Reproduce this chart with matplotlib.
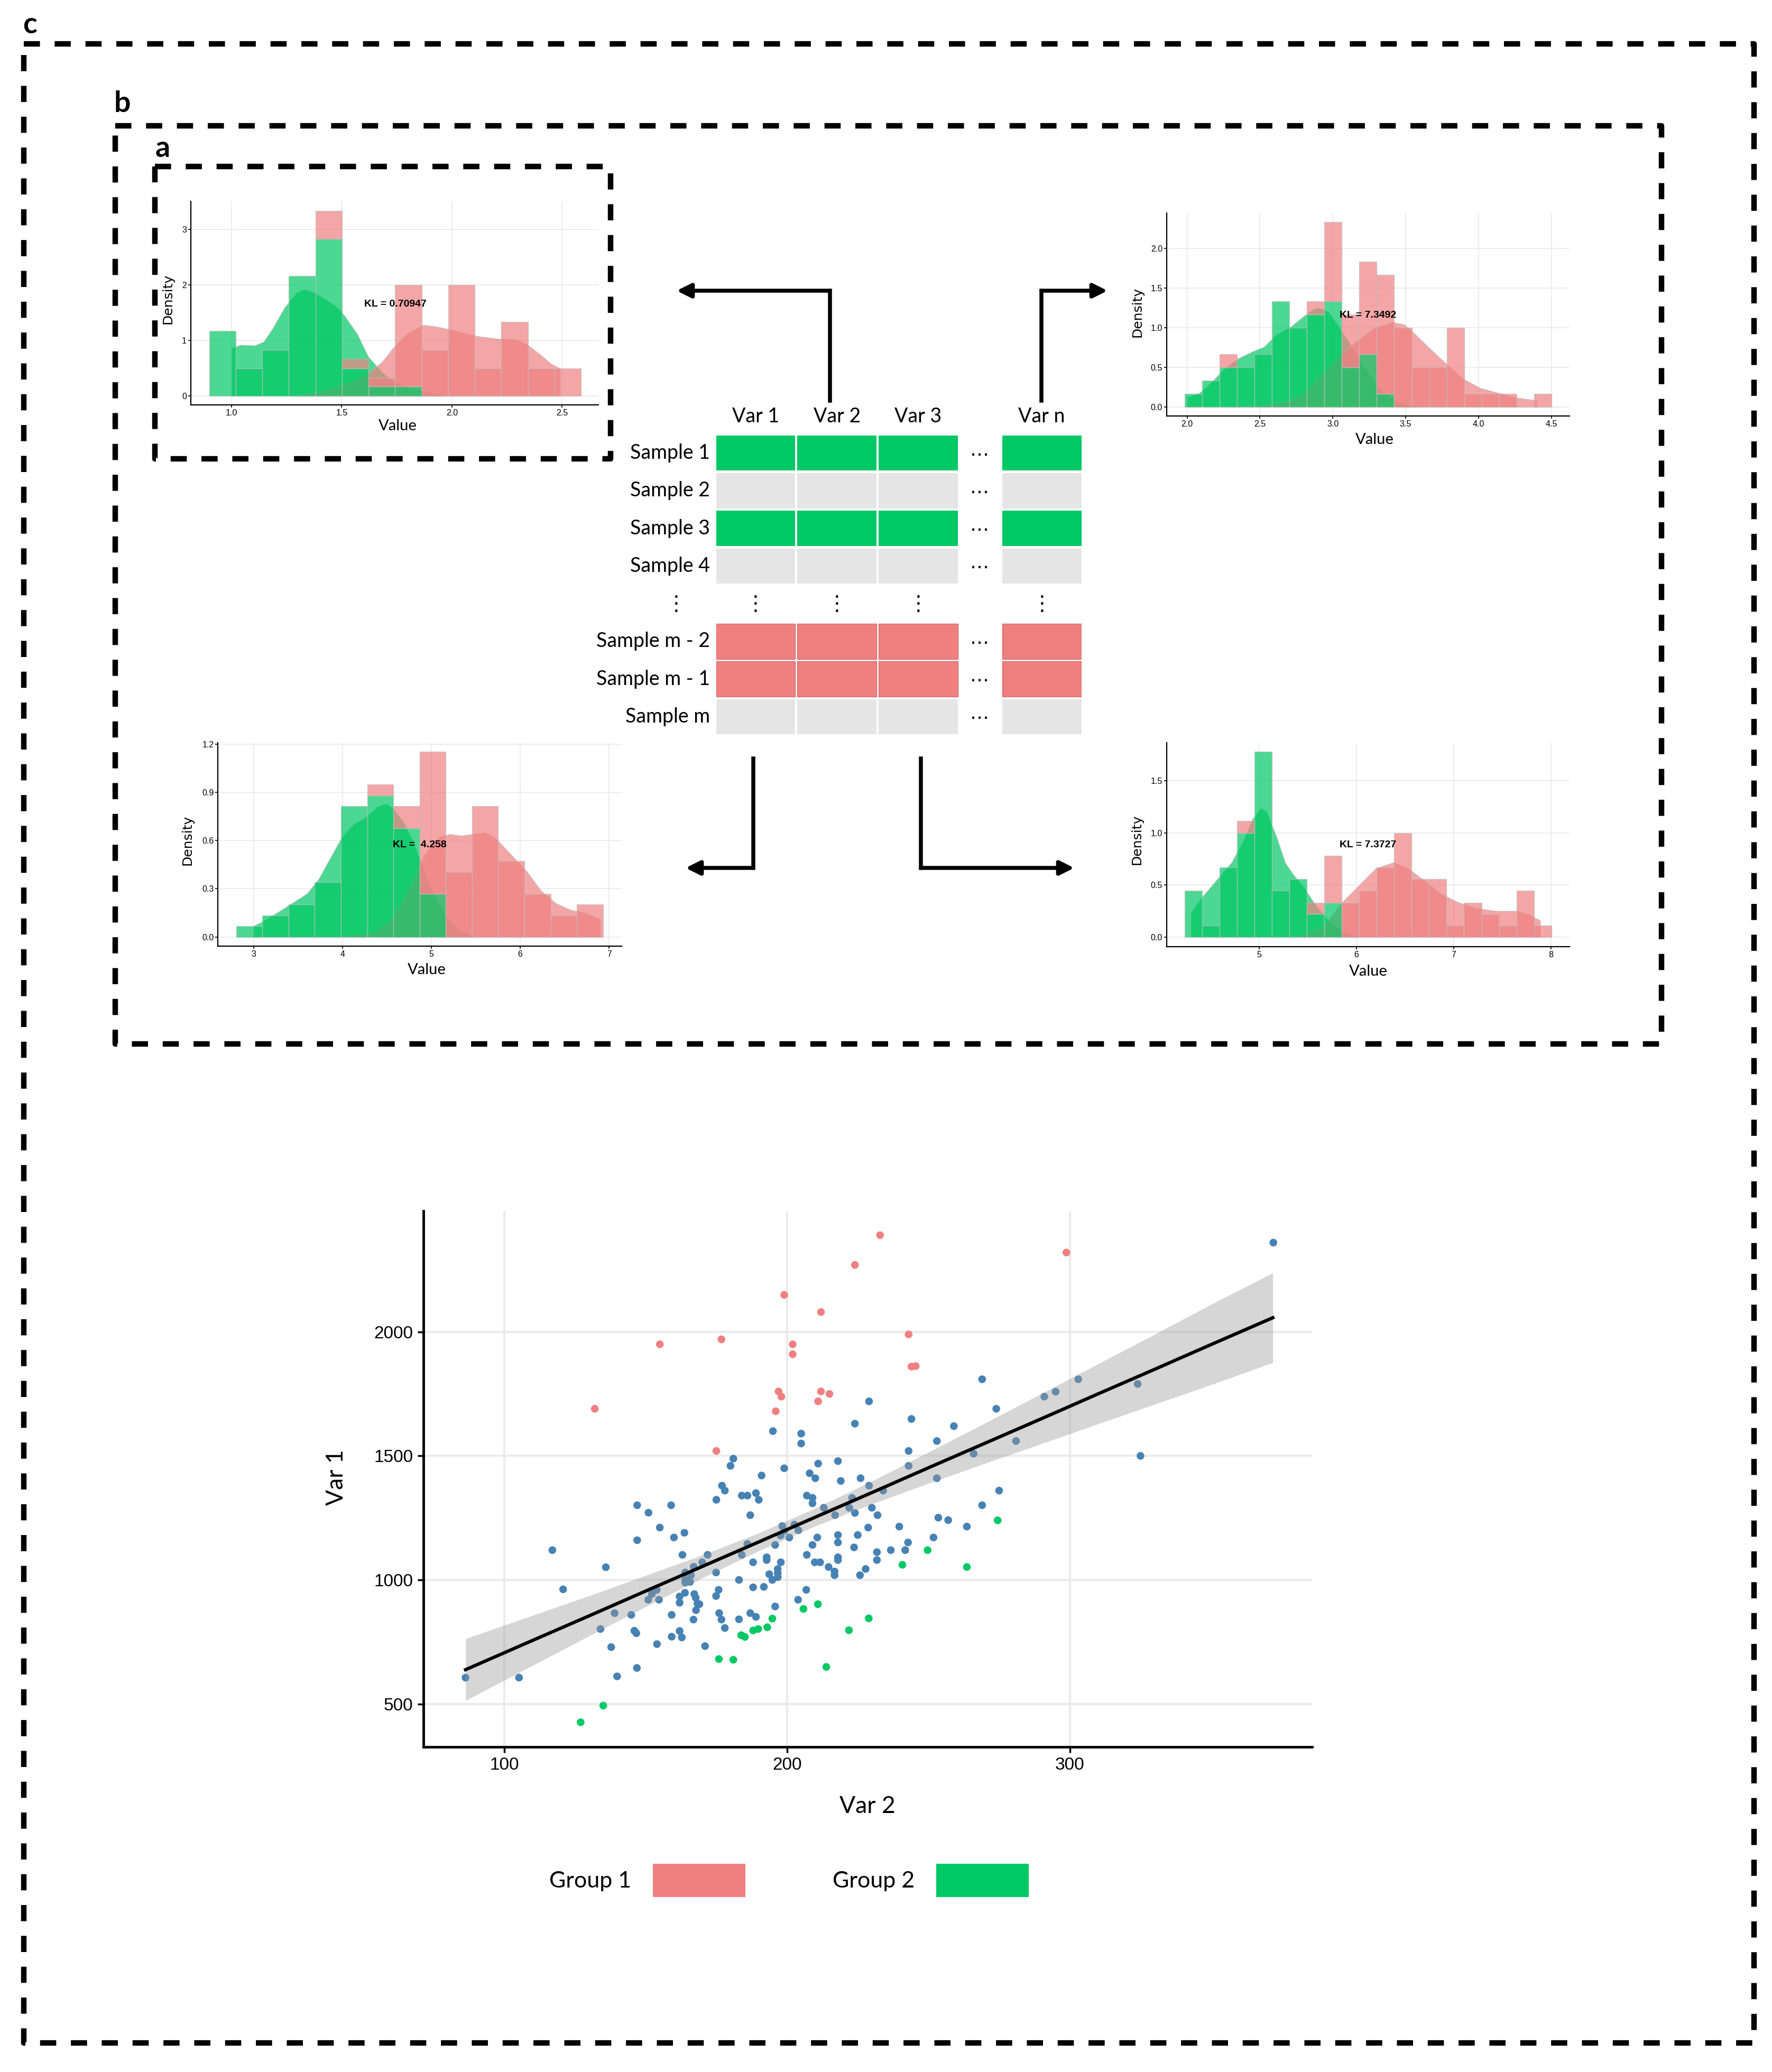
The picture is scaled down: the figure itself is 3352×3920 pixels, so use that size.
import numpy as np
import matplotlib
matplotlib.use("Agg")
import matplotlib.pyplot as plt
from matplotlib.patches import Patch

plt.rcParams['font.family'] = ['Liberation Sans', 'DejaVu Sans']
plt.rcParams['lines.scale_dashes'] = False

W, H, DPI = 3352, 3920, 100
PINK = '#F08080'
GREEN = '#00C864'
BLUE = '#4682B4'
CELL_GREY = '#E5E5E5'
EDGE = '#BEBEBE'
GRID = '#EBEBEB'
CAL = ['Lato', 'DejaVu Sans']

# ---------------- histogram panels (bin start, bin width, green heights, stacked totals) ----
tl_start, tl_width = 0.898, 0.1206
tl_green = [1.17, 0.5, 0.83, 2.16, 2.83, 0.5, 0.17, 0.17, 0, 0, 0, 0, 0, 0]
tl_total = [1.17, 0.5, 0.83, 2.16, 3.33, 0.67, 0.33, 2.0, 0.83, 2.0, 0.5, 1.33, 0.5, 0.5]
tl_gdx = [1.0, 1.04, 1.106, 1.146, 1.187, 1.24, 1.295, 1.329, 1.376, 1.43, 1.47, 1.51,
          1.57, 1.62, 1.68, 1.73, 1.81, 1.91, 1.96]
tl_gdy = [0.86, 0.92, 0.91, 0.98, 1.22, 1.59, 1.86, 1.92, 1.86, 1.73, 1.63, 1.46,
          1.12, 0.71, 0.44, 0.27, 0.14, 0.05, 0.01]
tl_pdx = [1.3, 1.4, 1.5, 1.57, 1.62, 1.68, 1.73, 1.79, 1.87, 1.93, 2.0, 2.11, 2.21,
          2.29, 2.34, 2.4, 2.45, 2.49]
tl_pdy = [0.01, 0.08, 0.2, 0.3, 0.42, 0.6, 0.85, 1.1, 1.28, 1.25, 1.19, 1.08, 1.03,
          1.02, 0.93, 0.75, 0.58, 0.5]

tr_start, tr_width = 1.982, 0.12
tr_green = [0.167, 0.333, 0.5, 0.5, 0.667, 1.333, 1.0, 1.167, 1.333, 0.5, 0.667, 0.167,
            0, 0, 0, 0, 0, 0, 0, 0, 0]
tr_total = [0.167, 0.333, 0.667, 0.5, 0.667, 1.333, 1.0, 1.333, 2.333, 1.167, 1.833, 1.667,
            1.0, 0.5, 0.5, 1.0, 0.167, 0.167, 0.167, 0, 0.167]
tr_gdx = [2.0, 2.087, 2.167, 2.248, 2.349, 2.45, 2.53, 2.61, 2.71, 2.79, 2.87, 2.91, 2.97,
          3.03, 3.11, 3.19, 3.28, 3.34, 3.42, 3.5, 3.58]
tr_gdy = [0.12, 0.18, 0.31, 0.47, 0.61, 0.70, 0.76, 0.91, 1.01, 1.13, 1.24, 1.25, 1.2,
          1.04, 0.82, 0.58, 0.33, 0.2, 0.09, 0.03, 0.01]
tr_pdx = [2.3, 2.51, 2.69, 2.81, 2.93, 3.05, 3.17, 3.29, 3.41, 3.49, 3.57, 3.67, 3.77,
          3.89, 4.01, 4.15, 4.25, 4.37, 4.4]
tr_pdy = [0.0, 0.02, 0.07, 0.18, 0.42, 0.64, 0.84, 1.0, 1.07, 1.04, 0.91, 0.73, 0.56,
          0.36, 0.24, 0.17, 0.12, 0.09, 0.08]

bl_start, bl_width = 2.802, 0.295
bl_green = [0.069, 0.135, 0.204, 0.34, 0.814, 0.879, 0.677, 0.27, 0, 0, 0, 0, 0, 0]
bl_total = [0.069, 0.135, 0.204, 0.34, 0.814, 0.949, 0.814, 1.154, 0.403, 0.814, 0.474,
            0.27, 0.135, 0.204]
bl_gdx = [3.0, 3.1, 3.26, 3.43, 3.6, 3.73, 3.86, 3.99, 4.12, 4.25, 4.39, 4.49, 4.57, 4.69,
          4.79, 4.88, 4.98, 5.08, 5.21, 5.34, 5.44]
bl_gdy = [0.069, 0.096, 0.15, 0.21, 0.27, 0.36, 0.49, 0.62, 0.70, 0.74, 0.81, 0.83, 0.80,
          0.71, 0.60, 0.47, 0.32, 0.21, 0.096, 0.036, 0.01]
bl_pdx = [3.99, 4.36, 4.55, 4.75, 4.92, 5.08, 5.21, 5.34, 5.47, 5.6, 5.73, 5.9, 6.07, 6.23,
          6.4, 6.56, 6.73, 6.9]
bl_pdy = [0.003, 0.03, 0.11, 0.30, 0.51, 0.62, 0.64, 0.63, 0.64, 0.65, 0.61, 0.51, 0.41,
          0.29, 0.21, 0.17, 0.15, 0.11]

br_start, br_width = 4.233, 0.1796
br_green = [0.445, 0.112, 0.667, 1.0, 1.781, 0.444, 0.555, 0.222, 0.33, 0, 0, 0, 0, 0,
            0, 0, 0, 0, 0, 0, 0]
br_total = [0.445, 0.112, 0.667, 1.114, 1.781, 0.444, 0.555, 0.33, 0.779, 0.33, 0.444,
            0.667, 1.0, 0.555, 0.555, 0.112, 0.33, 0.217, 0.112, 0.444, 0.112]
br_gdx = [4.3, 4.42, 4.57, 4.72, 4.84, 4.93, 5.02, 5.08, 5.18, 5.27, 5.36, 5.45, 5.57,
          5.72, 5.87, 6.02]
br_gdy = [0.234, 0.39, 0.555, 0.72, 0.93, 1.13, 1.24, 1.2, 0.96, 0.71, 0.59, 0.49, 0.32,
          0.15, 0.05, 0.005]
br_pdx = [5.3, 5.42, 5.66, 5.84, 6.02, 6.2, 6.38, 6.53, 6.68, 6.86, 7.04, 7.23, 7.44,
          7.65, 7.77, 7.89]
br_pdy = [0.0, 0.014, 0.098, 0.32, 0.49, 0.66, 0.716, 0.66, 0.555, 0.42, 0.335, 0.276,
          0.25, 0.25, 0.217, 0.157]

# ---------------- table ----------------
var_names = ['Var 1', 'Var 2', 'Var 3', 'Var n']
sample_names = ['Sample 1', 'Sample 2', 'Sample 3', 'Sample 4', '',
                'Sample m - 2', 'Sample m - 1', 'Sample m']
row_group = ['g2', 'none', 'g2', 'none', 'dots', 'g1', 'g1', 'none']

# ---------------- scatter (Var 2 vs Var 1) ----------------
g1_x = [232.9, 224, 199, 212, 176.8, 155, 202, 202, 197, 198, 212, 215, 211, 196, 132,
        175, 298.8, 243, 244, 245.5]
g1_y = [2390, 2270, 2149, 2080, 1970, 1950, 1950, 1910, 1760, 1739, 1760, 1750, 1720,
        1680, 1690, 1520, 2320, 1990, 1860, 1862]
g2_x = [249.7, 240.8, 263.6, 274.5, 210.9, 205.8, 194.8, 228.9, 193, 188, 189.8, 183.8,
        185.1, 221.9, 175.9, 181, 213.9, 135, 127]
g2_y = [1120, 1061, 1052, 1240, 902, 883, 844, 845, 809, 796, 802, 777, 770, 797, 681,
        678, 649, 493, 426]
other_x = [229, 224, 195, 205, 205, 181, 180, 199, 191, 211, 218, 208, 210, 219, 226, 177,
           178, 184, 186, 189, 207, 209, 175, 190, 223, 229, 372, 269, 303, 324, 295, 291,
           274, 244, 259, 253, 281, 243, 266, 325, 243, 234, 253, 275, 209, 213, 222, 224,
           217, 230, 232, 269, 253.5, 257, 263.6, 228.7, 239.7, 147, 159, 151, 155, 187,
           198.3, 199, 202.6, 204, 197.7, 200.8, 195.8, 186, 163.7, 160, 147, 117, 210.7,
           209, 218, 218, 225, 223.7, 207, 209.8, 211.7, 214.7, 216.8, 216.8, 218, 218,
           225.8, 227.8, 231.8, 231.8, 236.7, 241.8, 242.8, 251.8, 163, 171.9, 184, 170,
           188, 192.8, 192.8, 197.8, 167, 135.9, 164, 174.9, 196.7, 196.7, 193.7, 194.8,
           196.7, 183, 166, 165.7, 164, 164, 188, 191.8, 206.8, 175.8, 174.9, 163.9, 153.9,
           152.2, 150.9, 154.7, 162, 162, 167.2, 167.7, 168.3, 169, 167.8, 203.9, 195.8,
           120.8, 139, 144.9, 159.2, 166.9, 176, 176.8, 183, 187, 189, 178, 134, 146,
           146.7, 159.2, 162, 162.8, 154, 137.8, 171, 146.9, 139.9, 105.2, 86.3]
other_y = [1720, 1630, 1600, 1590, 1550, 1489, 1460, 1450, 1421, 1469, 1479, 1430, 1410,
           1399, 1410, 1380, 1360, 1340, 1340, 1350, 1340, 1331, 1323, 1323, 1331, 1380,
           2360, 1809, 1809, 1790, 1759, 1739, 1690, 1649, 1620, 1560, 1560, 1520, 1509,
           1500, 1460, 1360, 1410, 1360, 1309, 1291, 1291, 1270, 1261, 1291, 1261, 1301,
           1251, 1241, 1215, 1211, 1215, 1301, 1301, 1271, 1211, 1261, 1217, 1198, 1223,
           1200, 1179, 1171, 1141, 1145, 1190, 1171, 1160, 1120, 1171, 1141, 1181, 1151,
           1181, 1131, 1101, 1071, 1071, 1052, 1034, 1019, 1091, 1080, 1019, 1044, 1112,
           1080, 1120, 1120, 1151, 1171, 1101, 1101, 1101, 1071, 1071, 1091, 1080, 1071,
           1053, 1051, 1030, 1030, 1044, 1027, 1023, 1000, 1011, 1000, 1019, 992, 1000,
           989, 970, 972, 960, 960, 935, 948, 960, 943, 920, 920, 933, 908, 943, 928, 905,
           902, 878, 920, 893, 962, 866, 859, 859, 840, 866, 840, 841, 866, 851, 806, 802,
           795, 785, 771, 794, 768, 741, 729, 733, 645, 611, 606, 606]
fit_x = [86.3, 110, 130, 150, 170, 190, 210, 230, 250, 270, 290, 310, 330, 350, 371.8]
fit_y = [638, 756, 855, 955, 1054, 1153, 1253, 1352, 1452, 1551, 1650, 1750, 1849, 1949, 2057]
fit_lo = [513, 655, 774, 892, 1008, 1117, 1217, 1306, 1389, 1470, 1549, 1629, 1708, 1787, 1876]
fit_hi = [763, 857, 936, 1018, 1100, 1189, 1289, 1398, 1515, 1632, 1751, 1871, 1990, 2111, 2238]

fig = plt.figure(figsize=(W / DPI, H / DPI), dpi=DPI)
fig.patch.set_facecolor('white')


def px_axes(left, top, right, bottom):
    return fig.add_axes([left / W, 1 - bottom / H, (right - left) / W, (bottom - top) / H])


# background layer for the dashed frames, arrows and panel letters
ax_bg = px_axes(0, 0, W, H)
ax_bg.set_xlim(0, W)
ax_bg.set_ylim(H, 0)
ax_bg.axis('off')

boxes = [(45, 83, 3318, 3865), (218, 238, 3143, 1975), (293, 315, 1155, 868)]
for x0, y0, x1, y1 in boxes:
    ax_bg.plot([x0, x1, x1, x0, x0], [y0, y0, y1, y1, y0], color='k', lw=7.5,
               linestyle=(0, (22, 20)), dash_capstyle='butt')

for lab, (lx, ly) in zip(['c', 'b', 'a'], [(56, 47), (231, 196), (308, 281)]):
    ax_bg.text(lx, ly, lab, ha='center', va='center', fontsize=40, fontweight='bold',
               family=CAL)

arrows = [[(1570, 758), (1570, 550), (1280, 550)],
          [(1970, 758), (1970, 550), (2095, 550)],
          [(1425, 1435), (1425, 1642), (1297, 1642)],
          [(1742, 1435), (1742, 1642), (2032, 1642)]]
for pts in arrows:
    ax_bg.plot([p[0] for p in pts[:-1]], [p[1] for p in pts[:-1]], color='k', lw=5.4,
               solid_capstyle='projecting')
    ax_bg.annotate('', xy=pts[-1], xytext=pts[-2],
                   arrowprops=dict(arrowstyle='-|>,head_length=0.8,head_width=0.4',
                                   lw=5.4, color='k', mutation_scale=20,
                                   shrinkA=0, shrinkB=0))


def hist_panel(rect, start, width, green, total, gdx, gdy, pdx, pdy, xlim, ylim,
               xticks, xlabels, yticks, ylabels, kl, kl_xy, value_xy, dens_xy):
    ax = px_axes(*rect)
    green = np.array(green, dtype=float)
    total = np.array(total, dtype=float)
    left = start + width * np.arange(len(green))
    ax.fill_between(gdx, gdy, color=GREEN, alpha=0.7, edgecolor=EDGE, lw=1, zorder=2)
    ax.fill_between(pdx, pdy, color=PINK, alpha=0.7, edgecolor=EDGE, lw=1, zorder=2)
    gm = green > 0
    ax.bar(left[gm], green[gm], width, align='edge', color=GREEN, alpha=0.7,
           edgecolor=EDGE, linewidth=1, zorder=3)
    pm = total > green
    ax.bar(left[pm], (total - green)[pm], width, bottom=green[pm], align='edge',
           color=PINK, alpha=0.7, edgecolor=EDGE, linewidth=1, zorder=3)
    ax.set_xlim(*xlim)
    ax.set_ylim(*ylim)
    ax.set_xticks(xticks)
    ax.set_xticklabels(xlabels)
    ax.set_yticks(yticks)
    ax.set_yticklabels(ylabels)
    ax.grid(True, color=GRID, lw=1.3, zorder=0)
    ax.set_axisbelow(True)
    for s in ['top', 'right']:
        ax.spines[s].set_visible(False)
    for s in ['left', 'bottom']:
        ax.spines[s].set_linewidth(1.6)
    ax.tick_params(length=3.5, width=1.2, pad=2, labelsize=11.5)
    ax.text(kl_xy[0], kl_xy[1], kl, ha='center', va='center', fontsize=14,
            fontweight='bold', zorder=5)
    ax.text(value_xy[0], value_xy[1], 'Value', transform=ax.transAxes, ha='center',
            va='center', fontsize=21, family=CAL)
    ax.text(dens_xy[0], dens_xy[1], 'Density', transform=ax.transAxes, ha='center',
            va='center', rotation=90, fontsize=18, family='DejaVu Sans')
    return ax


hist_panel((360.5, 381.4, 1132, 766.4), tl_start, tl_width, tl_green, tl_total,
           tl_gdx, tl_gdy, tl_pdx, tl_pdy, (0.814, 2.665), (-0.163, 3.5),
           [1.0, 1.5, 2.0, 2.5], ['1.0', '1.5', '2.0', '2.5'],
           [0, 1, 2, 3], ['0', '1', '2', '3'],
           'KL = 0.70947', (1.743, 1.654), (0.508, -0.103), (-0.056, 0.523))
hist_panel((2206.7, 402.7, 2969, 787.3), tr_start, tr_width, tr_green, tr_total,
           tr_gdx, tr_gdy, tr_pdx, tr_pdy, (1.859, 4.625), (-0.116, 2.449),
           [2.0, 2.5, 3.0, 3.5, 4.0, 4.5], ['2.0', '2.5', '3.0', '3.5', '4.0', '4.5'],
           [0, 0.5, 1.0, 1.5, 2.0], ['0.0', '0.5', '1.0', '1.5', '2.0'],
           'KL = 7.3492', (3.241, 1.156), (0.516, -0.115), (-0.072, 0.513))
hist_panel((412.2, 1405, 1175.6, 1790), bl_start, bl_width, bl_green, bl_total,
           bl_gdx, bl_gdy, bl_pdx, bl_pdy, (2.597, 7.139), (-0.057, 1.209),
           [3, 4, 5, 6, 7], ['3', '4', '5', '6', '7'],
           [0, 0.3, 0.6, 0.9, 1.2], ['0.0', '0.3', '0.6', '0.9', '1.2'],
           'KL =  4.258', (4.868, 0.573), (0.518, -0.117), (-0.075, 0.52))
hist_panel((2206.7, 1405, 2969.4, 1791), br_start, br_width, br_green, br_total,
           br_gdx, br_gdy, br_pdx, br_pdy, (4.049, 8.193), (-0.093, 1.867),
           [5, 6, 7, 8], ['5', '6', '7', '8'],
           [0, 0.5, 1.0, 1.5], ['0.0', '0.5', '1.0', '1.5'],
           'KL = 7.3727', (6.12, 0.885), (0.501, -0.122), (-0.074, 0.526))

# ---------------- table ----------------
col_x = [0, 1, 2, 3.52]
cell_w, cell_h = 0.975, 0.93
dots_x = 3.24
ax_t = px_axes(1354.5, 824, 2046.4, 1389)
ax_t.set_xlim(0, 4.5)
ax_t.set_ylim(7.93, 0)
ax_t.axis('off')
fill = {'g1': PINK, 'g2': GREEN, 'none': CELL_GREY}
for r, (name, grp) in enumerate(zip(sample_names, row_group)):
    if grp == 'dots':
        for cx in [-0.49] + [c + cell_w / 2 for c in col_x]:
            ax_t.text(cx, r + 0.48, '\u22ee', ha='center', va='center', fontsize=28,
                      family='DejaVu Sans', clip_on=False)
        continue
    ax_t.bar(col_x, [cell_h] * len(col_x), cell_w, bottom=r, align='edge',
             color=fill[grp], edgecolor='#D46A6A' if grp == 'g1' else 'none',
             linewidth=1)
    ax_t.text(-0.075, r + cell_h / 2, name, ha='right', va='center', fontsize=27,
              family=CAL, clip_on=False)
    ax_t.text(dots_x, r + cell_h / 2 + 0.05, '\u22ef', ha='center', va='center',
              fontsize=26, family='DejaVu Sans')
for c, v in zip(col_x, var_names):
    ax_t.text(c + cell_w / 2, -0.5, v, ha='center', va='center', fontsize=27,
              family=CAL, clip_on=False)

# ---------------- scatter ----------------
ax_s = px_axes(801, 2291, 2482, 3305)
ax_s.scatter(other_x, other_y, s=110, color=BLUE, edgecolors='none', zorder=3)
ax_s.scatter(g1_x, g1_y, s=110, color=PINK, edgecolors='none', zorder=3)
ax_s.scatter(g2_x, g2_y, s=110, color=GREEN, edgecolors='none', zorder=3)
ax_s.fill_between(fit_x, fit_lo, fit_hi, color='#999999', alpha=0.4, lw=0, zorder=4)
ax_s.plot(fit_x, fit_y, color='k', lw=4.5, zorder=5)
ax_s.set_xlim(71.4, 385.7)
ax_s.set_ylim(326.5, 2487.6)
ax_s.set_xticks([100, 200, 300])
ax_s.set_yticks([500, 1000, 1500, 2000])
ax_s.grid(True, color=GRID, lw=3, zorder=0)
ax_s.set_axisbelow(True)
for s in ['top', 'right']:
    ax_s.spines[s].set_visible(False)
for s in ['left', 'bottom']:
    ax_s.spines[s].set_linewidth(3.5)
ax_s.tick_params(length=8, width=2.5, pad=6, labelsize=24)
ax_s.text(0.4997, -0.111, 'Var 2', transform=ax_s.transAxes, ha='center', va='center',
          fontsize=32, family=CAL)
ax_s.text(-0.0976, 0.503, 'Var 1', transform=ax_s.transAxes, ha='center', va='center',
          rotation=90, fontsize=32, family=CAL)

handles = [Patch(facecolor=PINK, edgecolor='none'), Patch(facecolor=GREEN, edgecolor='none')]
fig.legend(handles, ['Group 1', 'Group 2'], loc='center',
           bbox_to_anchor=(1492.5 / W, 1 - 3557.5 / H), ncol=2, frameon=False,
           markerfirst=False, handlelength=4.06, handleheight=1.87, handletextpad=0.95,
           columnspacing=3.85, prop={'family': CAL, 'size': 31}, borderpad=0,
           borderaxespad=0)

fig.savefig('out.png', dpi=DPI)
